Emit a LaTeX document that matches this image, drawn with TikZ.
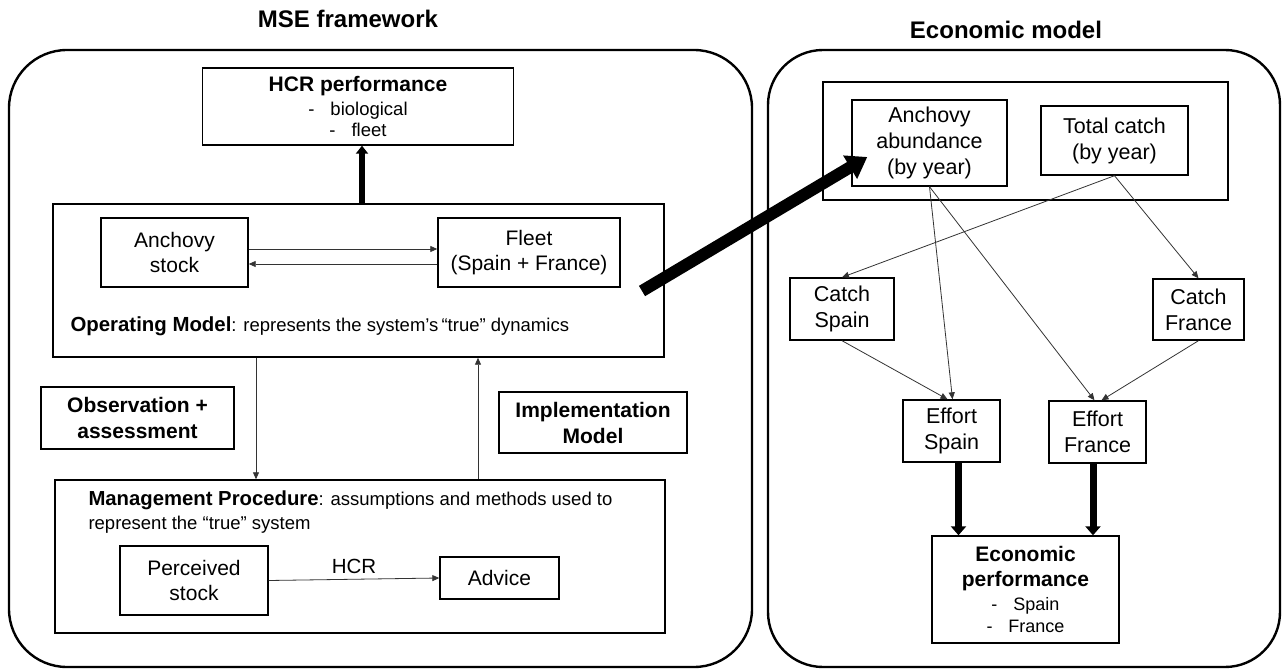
\documentclass[tikz,border=0pt]{standalone}
\usepackage{fontspec}
\setmainfont{Liberation Sans}
\usetikzlibrary{arrows.meta, positioning, calc}

\begin{document}
\begin{tikzpicture}[
    x=1pt, y=-1pt,
    frame/.style={draw, line width=2.4pt, rounded corners=58pt, inner sep=0pt},
    box/.style={draw, line width=1.4pt, align=center, inner sep=0pt},
    title/.style={font=\fontsize{24}{28}\selectfont\bfseries},
    txtL/.style={font=\fontsize{21}{25}\selectfont},
    txtR/.style={font=\fontsize{21.5}{26}\selectfont},
    thinarr/.style={-{Triangle[length=7pt, width=6pt]}, line width=0.8pt, black!80},
    hcrarr/.style={-{Triangle[length=8pt, width=12pt]}, line width=6pt},
    thickarr/.style={-{Triangle[length=9pt, width=15pt]}, line width=7pt},
    bigarr/.style={-{Triangle[length=20pt, width=26pt]}, line width=12pt}
  ]
    \useasboundingbox (0,0) rectangle (1283,671);

    % MSE framework
    \node[title] (msetitle) at (348,19) {MSE framework};
    \node[frame, minimum width=743, minimum height=617] (mse) at (380.5,358.5) {};
    \node[box, font=\fontsize{18.5}{21}\selectfont, minimum width=311, minimum height=77]
      (hcrperf) at (358,106.5)
      {{\fontsize{21}{24}\selectfont\bfseries HCR performance}\\[3pt]
       -\hspace{16pt}biological\\ -\hspace{16pt}fleet};
    \node[box, minimum width=611, minimum height=153] (opmodel) at (358.5,280.5) {};
    \node[box, txtL, minimum width=147, minimum height=69] (anch) at (174.5,252.5)
      {Anchovy\\stock};
    \node[box, txtL, minimum width=182, minimum height=69] (fleet) at (529,252.5)
      {Fleet\\(Spain + France)};
    \node[anchor=west, font=\fontsize{18.5}{22}\selectfont] (omlabel) at (67,326)
      {{\fontsize{20.4}{22}\selectfont\bfseries Operating Model}: represents the system’s\,“true” dynamics};
    \node[box, font=\fontsize{21}{26}\selectfont\bfseries, minimum width=193, minimum height=62]
      (obs) at (137.5,418) {Observation +\\assessment};
    \node[box, font=\fontsize{21}{26}\selectfont\bfseries, minimum width=188, minimum height=61]
      (impl) at (593,422.5) {Implementation\\Model};
    \node[box, minimum width=610, minimum height=153] (mgmt) at (360,556.5) {};
    \node[anchor=west, align=left, font=\fontsize{18.5}{24}\selectfont] (mplabel) at (85,512)
      {{\fontsize{20.3}{24}\selectfont\bfseries Management Procedure}: assumptions and methods used to\\
       represent the “true” system};
    \node[box, txtL, minimum width=148, minimum height=69] (perc) at (194,580.5)
      {Perceived\\stock};
    \node[box, txtL, minimum width=119, minimum height=42] (advice) at (499.5,578) {Advice};

    \draw[thinarr] ($(anch.east)+(0,-3.5)$) -- ($(fleet.west)+(0,-3.5)$);
    \draw[thinarr] ($(fleet.west)+(0,11.5)$) -- ($(anch.east)+(0,11.5)$);
    \draw[hcrarr] ($(opmodel.north)+(3.5,0)$) -- ($(opmodel.north |- hcrperf.south)+(3.5,0)$);
    \draw[thinarr] ($(opmodel.south)+(-102.5,0)$) -- ($(opmodel.south |- mgmt.north)+(-102.5,0)$);
    \draw[thinarr] ($(mgmt.north)+(118,0)$) -- ($(mgmt.north |- opmodel.south)+(118,0)$);
    \draw[thinarr] (perc.east) -- (advice.west)
      node[midway, above=2pt, text=black, font=\fontsize{20.5}{24}\selectfont] (hcrlbl) {HCR};

    % Economic model
    \node[title] (econtitle) at (1006,30) {Economic model};
    \node[frame, rounded corners=55pt, minimum width=512, minimum height=617] (econ) at (1024,358.5) {};
    \node[box, minimum width=405, minimum height=118] (inputs) at (1025.5,141) {};
    \node[box, txtR, minimum width=155, minimum height=86] (abund) at (929.5,143)
      {Anchovy\\abundance\\(by year)};
    \node[box, txtR, minimum width=147, minimum height=69] (totcatch) at (1114.5,140.5)
      {Total catch\\(by year)};
    \node[box, txtR, minimum width=104, minimum height=62] (catchES) at (842,309) {Catch\\Spain};
    \node[box, txtR, minimum width=91, minimum height=61] (catchFR) at (1198.5,309.5) {Catch\\France};
    \node[box, txtR, minimum width=97, minimum height=62] (effES) at (951.5,431) {Effort\\Spain};
    \node[box, txtR, minimum width=97, minimum height=62] (effFR) at (1097.5,432) {Effort\\France};
    \node[box, font=\fontsize{18}{21.5}\selectfont, minimum width=187, minimum height=107]
      (econperf) at (1025.5,589.5)
      {{\fontsize{21}{25}\selectfont\bfseries Economic}\\[3pt]
       {\fontsize{21}{25}\selectfont\bfseries performance}\\[3pt]
       -\hspace{16pt}Spain\\ -\hspace{16pt}France};

    \draw[thinarr] (totcatch.south) -- (catchES.north);
    \draw[thinarr] (totcatch.south) -- (catchFR.north);
    \draw[thinarr] (abund.south) -- ($(effES.north)+(1,0)$);
    \draw[thinarr] (abund.south) -- ($(effFR.north)+(-3,0)$);
    \draw[thinarr] (catchES.south) -- ($(effES.north)+(-4,0)$);
    \draw[thinarr] (catchFR.south) -- ($(effFR.north)+(4,0)$);
    \draw[thickarr] ($(effES.south)+(7,0)$) -- ($(effES.south |- econperf.north)+(7,0)$);
    \draw[thickarr] ($(effFR.south)+(-4.5,0)$) -- ($(effFR.south |- econperf.north)+(-4.5,0)$);

    % link between the two models
    \coordinate (omout) at (642,291);
    \draw[bigarr] (omout) -- ($(abund.west)+(16,14)$);
  \end{tikzpicture}
\end{document}
